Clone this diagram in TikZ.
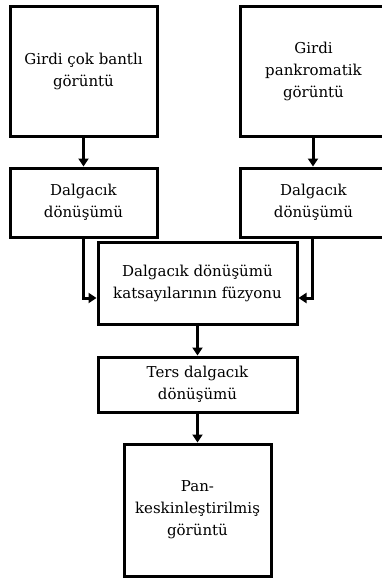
\documentclass[tikz,border=0pt]{standalone}
\usepackage{fontspec}
\setmainfont{DejaVu Serif}
\usetikzlibrary{arrows.meta,positioning}
\begin{document}
\begin{tikzpicture}[x=1pt,y=-1pt,
  box/.style={draw=black,line width=3pt,fill=white,align=center,inner sep=0pt,
    font=\fontsize{15}{22}\selectfont},
  conn/.style={line width=3pt,-{Triangle[length=8pt,width=10pt]}}]
\useasboundingbox (0,0) rectangle (381,579);
\node[box,minimum width=147pt,minimum height=130pt] (in1) at (83.5,71) {Girdi çok bantlı\\görüntü};
\node[box,minimum width=147pt,minimum height=130pt] (in2) at (313.5,71) {Girdi\\pankromatik\\görüntü};
\node[box,minimum width=147pt,minimum height=69pt] (dw1) at (83.5,202.5) {Dalgacık\\dönüşümü};
\node[box,minimum width=147pt,minimum height=69pt] (dw2) at (313.5,202.5) {Dalgacık\\dönüşümü};
\node[box,minimum width=199pt,minimum height=82pt] (fus) at (197.5,283) {Dalgacık dönüşümü\\katsayılarının füzyonu};
\node[box,minimum width=199pt,minimum height=55pt] (inv) at (197.5,384.5) {Ters dalgacık\\dönüşümü};
\node[box,minimum width=147pt,minimum height=132pt] (out) at (197.5,510) {Pan-\\keskinleştirilmiş\\görüntü};
\draw[conn] (in1.south) -- (dw1.north);
\draw[conn] (in2.south -| 313,0) -- (dw2.north -| 313,0);
\draw[conn] (dw1.south -| 83,0) |- (fus.west |- 0,298);
\draw[conn] (dw2.south -| 312,0) |- (fus.east |- 0,298);
\draw[conn] (fus.south) -- (inv.north);
\draw[conn] (inv.south) -- (out.north);
\end{tikzpicture}
\end{document}
